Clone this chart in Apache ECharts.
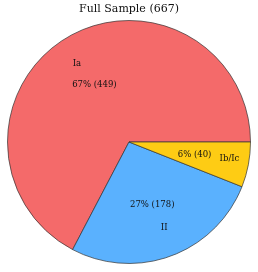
<!DOCTYPE html>
<html><head><meta charset="utf-8">
<script src="https://cdn.jsdelivr.net/npm/echarts@6/dist/echarts.min.js"></script>
<style>html,body{margin:0;padding:0;background:#fff}#c{width:258px;height:272px}</style>
</head><body><div id="c"></div>
<script>
const titleText = 'Full Sample (667)';
const categories = ['Ia', 'II', 'Ib/Ic'];
const counts = [449, 178, 40];
const colors = ['#f46a6a', '#5ab1fe', '#fecc14'];
const nameAlign = ['right', 'left', 'left'];
const nameWidth = [10, 7, 22];

const R = 121.5;
const C = [129, 142];
const FONT = 'DejaVu Serif';

const baseData = categories.map((n, i) => ({ name: n, value: counts[i], itemStyle: { color: colors[i] } }));
const clearData = categories.map((n, i) => ({ name: n, value: counts[i] }));
const nameData = categories.map((n, i) => ({
  name: n, value: counts[i],
  label: { padding: nameAlign[i] === 'left' ? [0, 0, 0, nameWidth[i]] : [0, nameWidth[i], 0, 0] }
}));

const common = { type: 'pie', center: C, startAngle: 0, clockwise: false, silent: true, animation: false };

const chart = echarts.init(document.getElementById('c'), null, { renderer: 'canvas' });
chart.setOption({
  backgroundColor: '#fff',
  title: { text: titleText, left: 'center', top: -1, textStyle: { fontFamily: FONT, fontSize: 11, fontWeight: 'normal', color: '#111' } },
  series: [
    Object.assign({}, common, {
      radius: [0, R], data: baseData,
      itemStyle: { borderColor: '#333', borderWidth: 0.7 },
      label: { show: false }, labelLine: { show: false }
    }),
    Object.assign({}, common, {
      radius: [0, R * 1.05], data: clearData, z: 3,
      itemStyle: { color: 'rgba(0,0,0,0)', borderWidth: 0 },
      label: { show: true, position: 'inside', fontFamily: FONT, fontSize: 8.5, color: '#111',
        formatter: p => Math.round(p.percent) + '% (' + p.value + ')' },
      labelLine: { show: false }
    }),
    Object.assign({}, common, {
      radius: [0, R * 1.45], data: nameData, z: 3,
      itemStyle: { color: 'rgba(0,0,0,0)', borderWidth: 0 },
      label: { show: true, position: 'inside', fontFamily: FONT, fontSize: 8.5, color: '#111', formatter: '{b}' },
      labelLine: { show: false }
    })
  ]
});
</script></body></html>
